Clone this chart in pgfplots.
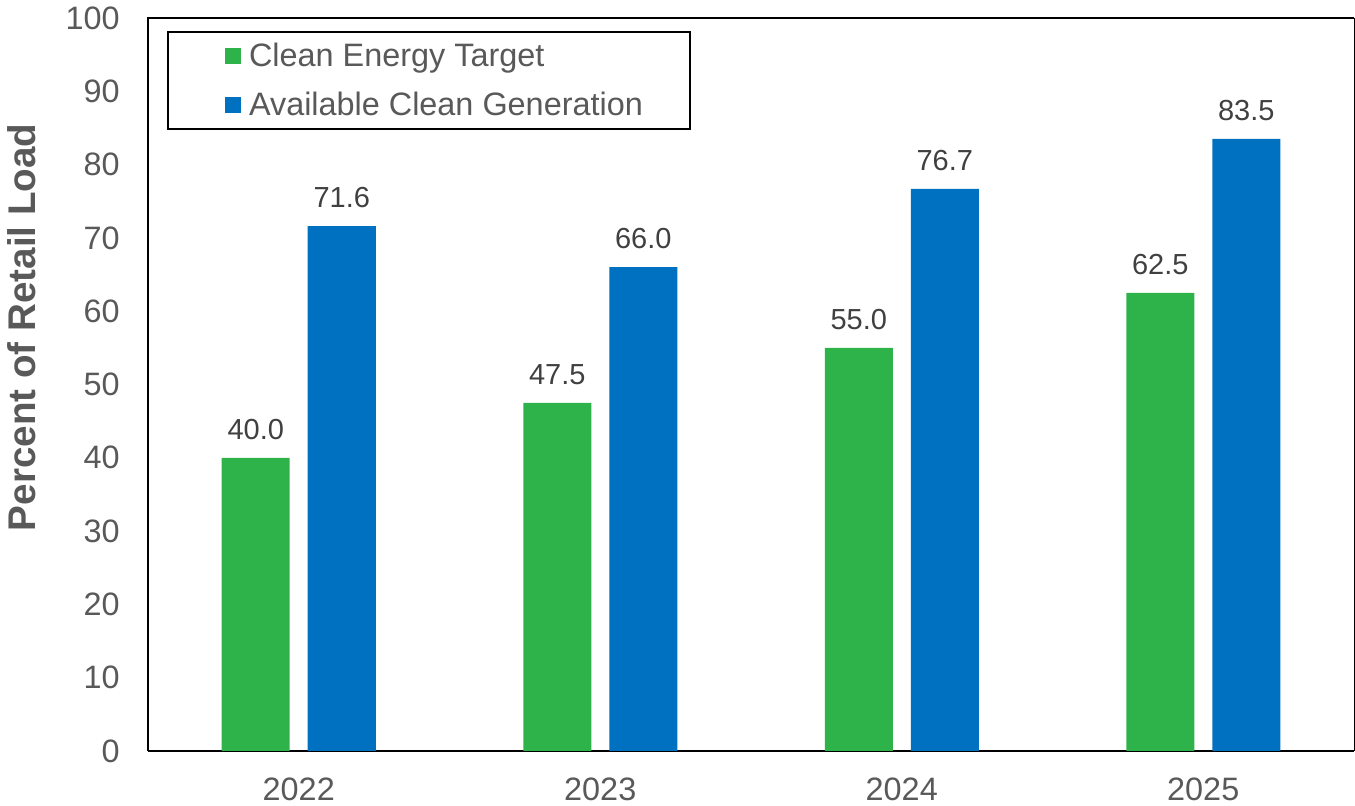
\documentclass[border=0pt]{standalone}
\usepackage{pgfplots}
\pgfplotsset{compat=1.18}
\usepackage{fontspec}
\setmainfont{Liberation Sans}
\definecolor{cgreen}{HTML}{2DB34A}
\definecolor{cblue}{HTML}{0070C0}
\definecolor{tickgray}{HTML}{595959}
\definecolor{lblgray}{HTML}{404040}
\begin{document}
\begin{tikzpicture}
\begin{axis}[name=ax, scale only axis, width=603pt, height=366.5pt,
  xmin=-0.5, xmax=3.5, ymin=0, ymax=100,
  ytick={0,10,...,100}, xtick={0,1,2,3}, xticklabels={2022,2023,2024,2025},
  major tick length=0pt,
  axis x line*=bottom, axis y line*=left,
  axis line style={-, black, line width=1.35pt},
  ybar, bar width=34pt,
  /pgf/number format/assume math mode=true,
  tick label style={font=\fontsize{16.2}{19}\selectfont, text=tickgray},
  yticklabel style={inner sep=0pt, xshift=-14pt},
  xticklabel style={inner sep=0pt, yshift=-13pt},
  ylabel={Percent of Retail Load},
  ylabel style={at={(axis description cs:-0.1045,0.578)}, anchor=center,
    font=\fontsize{19.3}{22}\selectfont\bfseries, text=tickgray},
  nodes near coords={\pgfmathprintnumber[fixed, fixed zerofill, precision=1]{\pgfplotspointmeta}},
  nodes near coords style={font=\fontsize{14.5}{17}\selectfont, text=lblgray, inner sep=0pt, anchor=south, yshift=9pt},
  legend cell align=left,
  legend style={at={(rel axis cs:0.0158,0.982)}, anchor=north west, draw=black, line width=1pt,
    inner xsep=23.5pt, inner ysep=5.5pt, row sep=11pt,
    font=\fontsize{16.2}{19}\selectfont, text=tickgray,
    nodes={inner sep=0pt}, /tikz/every odd column/.append style={column sep=4pt}},
  legend image code/.code={\path (0pt,0pt); \fill[#1, draw=none] (5pt,-4pt) rectangle (13pt,4pt);},
]
\addplot[fill=cgreen, draw=none, bar shift=-21.5pt] coordinates {(0,40.0) (1,47.5) (2,55.0) (3,62.5)};
\addlegendentry{Clean Energy Target}
\addplot[fill=cblue, draw=none, bar shift=21.5pt] coordinates {(0,71.6) (1,66.0) (2,76.7) (3,83.5)};
\addlegendentry{Available Clean Generation}
\end{axis}
\draw[line width=1.35pt] ([xshift=-0.675pt]ax.north west) -- (ax.north east);
\draw[line width=0.5pt] (ax.north east) -- (ax.south east);
\pgfresetboundingbox
\path ([shift={(-74pt,-27.5pt)}]ax.south west) rectangle ([shift={(0.5pt,9pt)}]ax.north east);
\end{tikzpicture}
\end{document}
